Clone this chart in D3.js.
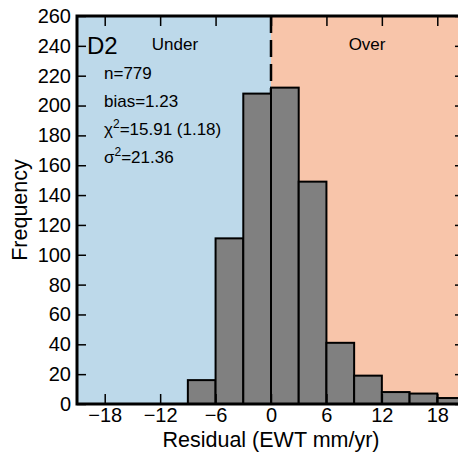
<!DOCTYPE html>
<html>
<head>
<meta charset="utf-8">
<script src="https://cdn.jsdelivr.net/npm/d3@7/dist/d3.min.js"></script>
<style>
  body { margin: 0; background: #fff; }
  svg { display: block; font-family: "Liberation Sans", Arial, sans-serif; }
</style>
</head>
<body>
<div id="app"></div>
<script>
// histogram bins (residual, mm/yr) and counts
let binStarts = [-9, -6, -3, 0, 3, 6, 9, 12, 15, 18];
let binWidth = 3;
let counts = [16, 111, 208, 212, 149, 41, 19, 8, 7, 4];
let xTicks = [-18, -12, -6, 0, 6, 12, 18];
let yTicks = [0, 20, 40, 60, 80, 100, 120, 140, 160, 180, 200, 220, 240, 260];
let stats = ['n=779', 'bias=1.23', ['χ', '2', '=15.91 (1.18)'], ['σ', '2', '=21.36']];

let W = 458, H = 456;
let margin = { top: 16, left: 77, bottom: 52, right: -7 };
let w = W - margin.left - margin.right;
let h = H - margin.top - margin.bottom;

let xScale = d3.scaleLinear().domain([-21, 21]).range([0, w]);
let yScale = d3.scaleLinear().domain([0, 260]).range([h, 0]);

let svg = d3.select('#app').append('svg')
  .attr('width', W)
  .attr('height', H);

let g = svg.append('g')
  .attr('transform', 'translate(' + margin.left + ',' + margin.top + ')');

// under / over background
g.append('rect')
  .attr('x', 0).attr('y', 0)
  .attr('width', xScale(0)).attr('height', h)
  .attr('fill', '#bdd9ea');
g.append('rect')
  .attr('x', xScale(0)).attr('y', 0)
  .attr('width', w - xScale(0)).attr('height', h)
  .attr('fill', '#f8c5aa');

g.append('line')
  .attr('x1', xScale(0)).attr('x2', xScale(0))
  .attr('y1', 0).attr('y2', h)
  .attr('stroke', '#000')
  .attr('stroke-width', 2.5)
  .attr('stroke-dasharray', '17,7');

// bars
g.selectAll('rect.bar')
  .data(binStarts)
  .enter().append('rect')
  .attr('class', 'bar')
  .attr('x', (d) => xScale(d))
  .attr('width', (d) => xScale(d + binWidth) - xScale(d))
  .attr('y', (d, i) => yScale(counts[i]))
  .attr('height', (d, i) => yScale(0) - yScale(counts[i]))
  .attr('fill', '#808080')
  .attr('stroke', '#000')
  .attr('stroke-width', 2);

// axes, ticks pointing inward
let tickFont = (sel) => {
  sel.select('.domain').remove();
  sel.selectAll('.tick line').attr('stroke', '#000').attr('stroke-width', 1.5);
  sel.selectAll('.tick text').attr('fill', '#000')
    .style('font-size', '20px')
    .style('font-family', '"Liberation Sans", Arial, sans-serif');
};

g.append('g')
  .call(d3.axisLeft(yScale).tickValues(yTicks).tickSize(-9).tickPadding(6))
  .call(tickFont);

g.append('g')
  .attr('transform', 'translate(' + w + ',0)')
  .call(d3.axisRight(yScale).tickValues(yTicks).tickSize(-10).tickFormat(''))
  .call(tickFont);

g.append('g')
  .attr('transform', 'translate(0,' + h + ')')
  .call(d3.axisBottom(xScale).tickValues(xTicks).tickSize(-10).tickPadding(4)
    .tickFormat((d) => d < 0 ? '\u2212' + Math.abs(d) : d))
  .call(tickFont);

g.append('g')
  .call(d3.axisTop(xScale).tickValues(xTicks).tickSize(-10).tickFormat(''))
  .call(tickFont);

g.append('rect')
  .attr('x', 0).attr('y', 0)
  .attr('width', w).attr('height', h)
  .attr('fill', 'none')
  .attr('stroke', '#000')
  .attr('stroke-width', 3);

// labels
g.append('text')
  .attr('x', 10).attr('y', 38)
  .style('font-size', '24px')
  .text('D2');

g.append('text')
  .attr('x', xScale(-10.4)).attr('y', 34)
  .attr('text-anchor', 'middle')
  .style('font-size', '17px')
  .text('Under');

g.append('text')
  .attr('x', xScale(10.4)).attr('y', 34)
  .attr('text-anchor', 'middle')
  .style('font-size', '17px')
  .text('Over');

stats.forEach((s, i) => {
  let t = g.append('text')
    .attr('x', 27).attr('y', 63 + i * 28)
    .style('font-size', '17px');
  if (typeof s === 'string') {
    t.text(s);
  } else {
    t.append('tspan').text(s[0]);
    t.append('tspan').attr('dy', -7).style('font-size', '12px').text(s[1]);
    t.append('tspan').attr('dy', 7).text(s[2]);
  }
});

svg.append('text')
  .attr('x', margin.left + xScale(0)).attr('y', 447)
  .attr('text-anchor', 'middle')
  .style('font-size', '21.5px')
  .text('Residual (EWT mm/yr)');

svg.append('text')
  .attr('transform', 'translate(27,' + (margin.top + h / 2) + ') rotate(-90)')
  .attr('text-anchor', 'middle')
  .style('font-size', '21.5px')
  .text('Frequency');
</script>
</body>
</html>
